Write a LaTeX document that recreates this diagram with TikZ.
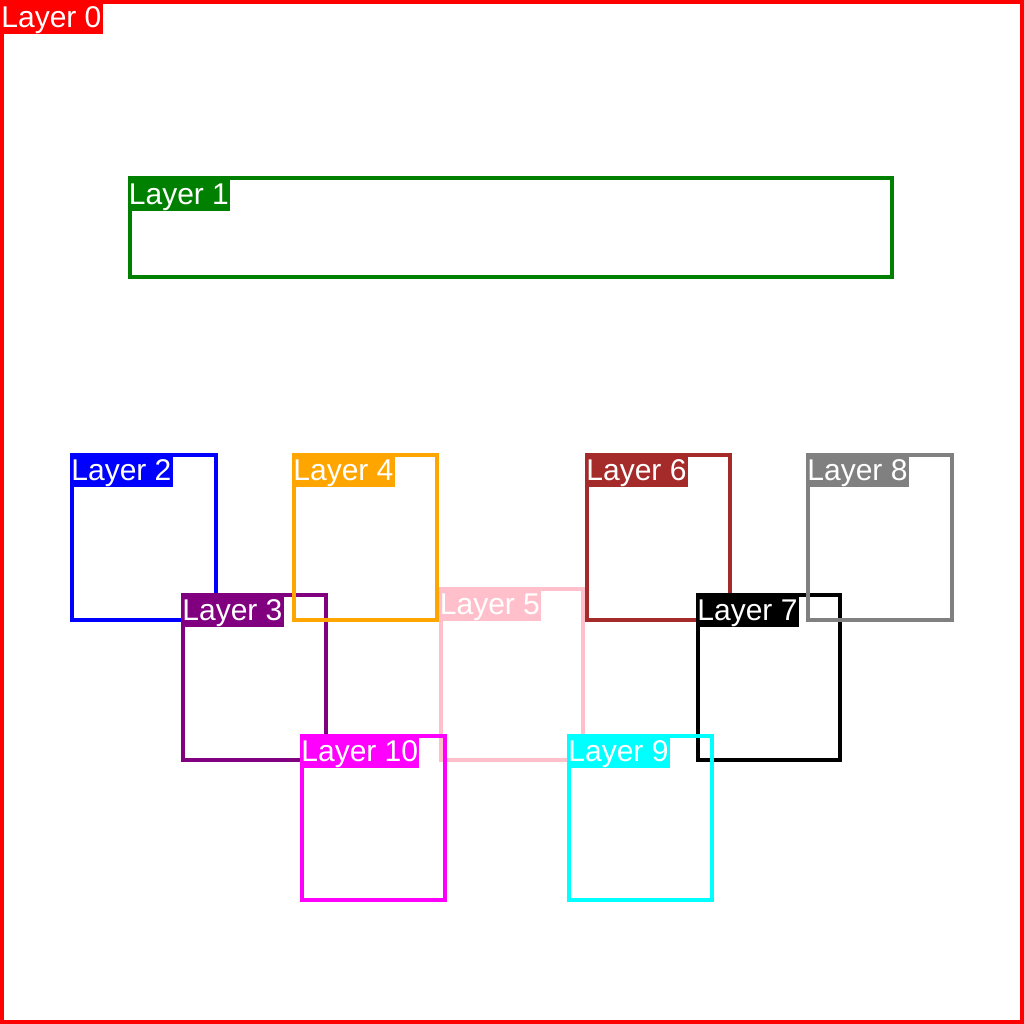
\documentclass[tikz,border=0pt]{standalone}
\usepackage{fontspec}
\setmainfont{Liberation Sans}
\definecolor{cRed}{RGB}{255,0,0}
\definecolor{cGreen}{RGB}{0,128,0}
\definecolor{cBlue}{RGB}{0,0,255}
\definecolor{cPurple}{RGB}{128,0,128}
\definecolor{cOrange}{RGB}{255,165,0}
\definecolor{cPink}{RGB}{255,192,203}
\definecolor{cBrown}{RGB}{165,42,42}
\definecolor{cBlack}{RGB}{0,0,0}
\definecolor{cGray}{RGB}{128,128,128}
\definecolor{cCyan}{RGB}{0,255,255}
\definecolor{cMagenta}{RGB}{255,0,255}
\begin{document}
\begin{tikzpicture}[x=1pt,y=-1pt,
  layerbox/.style={draw=#1, line width=4pt},
  layerlab/.style={fill=#1, text=white, anchor=north west, inner xsep=1.2pt, inner ysep=0pt,
    text height=27.4pt, text depth=6.6pt, font=\fontsize{30}{34}\selectfont}]
\useasboundingbox (0,0) rectangle (1024,1024);
\fill[white] (0,0) rectangle (1024,1024);
% Layer 0
\draw[layerbox=cRed] (2,2) rectangle (1022,1022);
\coordinate (c0) at (0,0);
\node[layerlab=cRed] (t0) at (c0) {Layer 0};
\draw[layerbox=cGreen] (129.5,178.5) coordinate (c1) rectangle (892,276.5);
\node[layerlab=cGreen] (t1) at ([shift={(-2pt,2pt)}]c1) {Layer 1};
\draw[layerbox=cBlue] (72,455) coordinate (c2) rectangle (215.5,619.5);
\node[layerlab=cBlue] (t2) at ([shift={(-2pt,2pt)}]c2) {Layer 2};
\draw[layerbox=cPurple] (183,595) coordinate (c3) rectangle (326,760);
\node[layerlab=cPurple] (t3) at ([shift={(-2pt,2pt)}]c3) {Layer 3};
\draw[layerbox=cOrange] (294,455) coordinate (c4) rectangle (437,619.5);
\node[layerlab=cOrange] (t4) at ([shift={(-2pt,2pt)}]c4) {Layer 4};
\draw[layerbox=cPink] (440.5,588.5) coordinate (c5) rectangle (583,760);
\node[layerlab=cPink] (t5) at ([shift={(-2pt,2pt)}]c5) {Layer 5};
\draw[layerbox=cBrown] (587,455) coordinate (c6) rectangle (730,619.5);
\node[layerlab=cBrown] (t6) at ([shift={(-2pt,2pt)}]c6) {Layer 6};
\draw[layerbox=cBlack] (698,595) coordinate (c7) rectangle (840,760);
\node[layerlab=cBlack] (t7) at ([shift={(-2pt,2pt)}]c7) {Layer 7};
\draw[layerbox=cGray] (808,455) coordinate (c8) rectangle (951.5,619.5);
\node[layerlab=cGray] (t8) at ([shift={(-2pt,2pt)}]c8) {Layer 8};
\draw[layerbox=cCyan] (569,736) coordinate (c9) rectangle (712,900);
\node[layerlab=cCyan] (t9) at ([shift={(-2pt,2pt)}]c9) {Layer 9};
\draw[layerbox=cMagenta] (302,736) coordinate (c10) rectangle (445,900);
\node[layerlab=cMagenta] (t10) at ([shift={(-2pt,2pt)}]c10) {Layer 10};
\end{tikzpicture}
\end{document}
